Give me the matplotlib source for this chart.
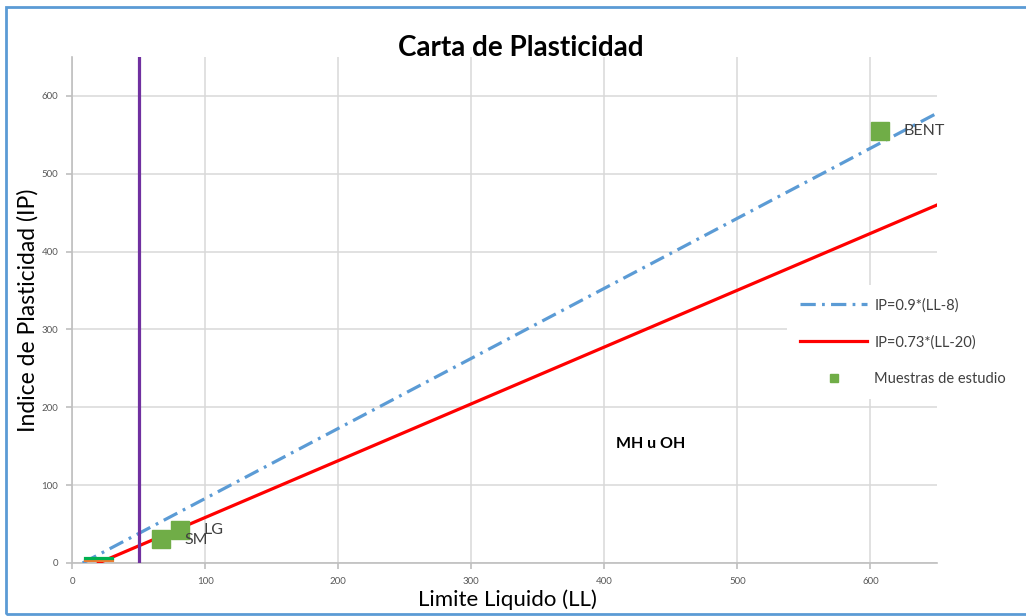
import numpy as np
import matplotlib.pyplot as plt
from matplotlib.patches import Rectangle

plt.rcParams['font.family'] = ['Lato', 'DejaVu Sans']
plt.rcParams['lines.scale_dashes'] = False

# Lines of the plasticity chart (LL range of each line)
u_line_ll = [8, 650]
a_line_ll = [20, 650]
ll_limit = 50
cl_ml_ll = [10, 30]
cl_ml_ip = [7, 4]

# Study samples
sample_names = ['SM', 'LG', 'BENT']
sample_ll = [67, 81, 607]
sample_ip = [31, 42, 555]
label_offsets = [(17, -1), (17, 0), (17, 0)]

x_ticks = [0, 100, 200, 300, 400, 500, 600]
y_ticks = [0, 100, 200, 300, 400, 500, 600]

fig = plt.figure(figsize=(10.26, 6.16), dpi=100)
ax = fig.add_axes([72 / 1026, 53 / 616, 865 / 1026, 506 / 616])

ll_u = np.array(u_line_ll, dtype=float)
ll_a = np.array(a_line_ll, dtype=float)

ax.plot(ll_u, 0.9 * (ll_u - 8), color='#5B9BD5', lw=2.3,
        dashes=[11, 4.5, 2, 4.5], label='IP=0.9*(LL-8)', zorder=4)
ax.plot(ll_a, 0.73 * (ll_a - 20), color='#FF0000', lw=2.3,
        label='IP=0.73*(LL-20)', zorder=4)
ax.axvline(ll_limit, color='#7030A0', lw=2.3, zorder=4)
ax.plot(cl_ml_ll, [cl_ml_ip[1]] * 2, color='#ED7D31', lw=2.3, zorder=4)
ax.plot(cl_ml_ll, [cl_ml_ip[0]] * 2, color='#00B050', lw=2.3, zorder=5)

ax.plot(sample_ll, sample_ip, 's', color='#70AD47', ms=13, ls='none',
        label='Muestras de estudio', zorder=6)
for name, x, y, off in zip(sample_names, sample_ll, sample_ip, label_offsets):
    ax.annotate(name, (x, y), xytext=off, textcoords='offset points',
                ha='left', va='center', fontsize=11.5, color='#404040', zorder=7)

ax.text(409, 153, 'MH u OH', fontsize=11.5, fontweight='bold',
        ha='left', va='center', color='black')

ax.set_xlim(0, 650)
ax.set_ylim(0, 650)
ax.set_xticks(x_ticks)
ax.set_yticks(y_ticks)
ax.grid(True, color='#D9D9D9', lw=1.1, zorder=0)
ax.set_axisbelow(True)
for s in ['top', 'right']:
    ax.spines[s].set_visible(False)
for s in ['left', 'bottom']:
    ax.spines[s].set_color('#BFBFBF')
    ax.spines[s].set_linewidth(1.2)
ax.tick_params(colors='#BFBFBF', labelcolor='#595959', labelsize=7,
               length=4, width=1.2, pad=6)

ax.set_xlabel('Limite Liquido (LL)', fontsize=16, va='center')
ax.set_ylabel('Indice de Plasticidad (IP)', fontsize=16.5, va='center')
ax.xaxis.set_label_coords(0.503, -37 / 506)
ax.yaxis.set_label_coords(-44 / 865, 0.5)
fig.text(0.508, 0.922, 'Carta de Plasticidad',
         fontsize=20, fontweight='bold', ha='center', va='center')

leg = ax.legend(loc='upper left', bbox_to_anchor=(787 / 1026, 1 - 285 / 616),
                bbox_transform=fig.transFigure, borderaxespad=0, frameon=True,
                fontsize=10.5, labelspacing=1.55, handlelength=4.6,
                handletextpad=0.5, borderpad=0.9, markerscale=0.4)
leg.get_frame().set_facecolor('white')
leg.get_frame().set_edgecolor('none')
leg.get_frame().set_alpha(1)
leg.set_zorder(10)
for t in leg.get_texts():
    t.set_color('#404040')

fig.patches.append(Rectangle((6 / 1026, 2 / 616), 1.2, 1 - 9 / 616,
                             transform=fig.transFigure, fill=False,
                             edgecolor='#5B9BD5', lw=2))

fig.savefig('out.png', dpi=100)
